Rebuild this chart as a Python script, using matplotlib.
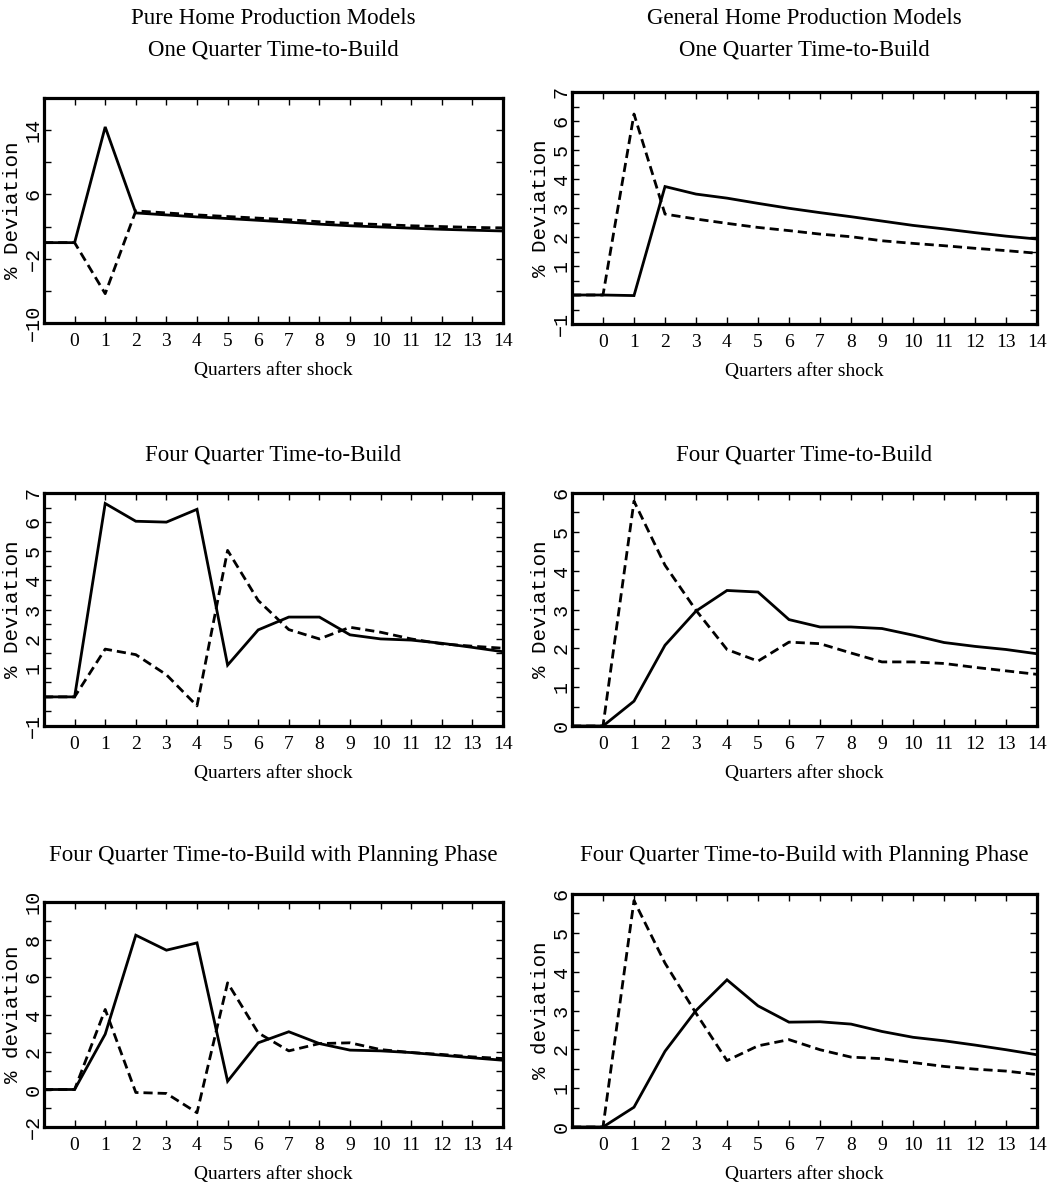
import matplotlib
matplotlib.use("Agg")
import matplotlib.pyplot as plt
import numpy as np

# ---------------- data ----------------
quarters = list(range(-1, 15))

p1_solid  = [0, 0, 14.4, 3.7, 3.45, 3.2, 3.0, 2.78, 2.55, 2.3, 2.1, 1.95, 1.8, 1.66, 1.55, 1.45]
p1_dashed = [0, 0, -6.35, 3.95, 3.7, 3.45, 3.25, 3.05, 2.85, 2.6, 2.4, 2.25, 2.1, 2.0, 1.9, 1.83]

p2_solid  = [0, 0, -0.02, 3.74, 3.48, 3.34, 3.16, 2.99, 2.84, 2.70, 2.55, 2.40, 2.28, 2.15, 2.03, 1.93]
p2_dashed = [0, 0, 6.24, 2.79, 2.62, 2.47, 2.33, 2.22, 2.10, 2.01, 1.87, 1.78, 1.70, 1.61, 1.53, 1.44]

p3_solid  = [0, 0, 6.64, 6.03, 6.0, 6.44, 1.09, 2.30, 2.74, 2.74, 2.13, 1.99, 1.95, 1.84, 1.70, 1.55]
p3_dashed = [0, 0, 1.64, 1.45, 0.76, -0.31, 5.03, 3.31, 2.31, 1.99, 2.39, 2.22, 1.99, 1.82, 1.74, 1.67]

p4_solid  = [0, 0, 0.64, 2.08, 2.96, 3.49, 3.45, 2.74, 2.55, 2.55, 2.51, 2.34, 2.15, 2.05, 1.97, 1.86]
p4_dashed = [0, 0, 5.79, 4.14, 2.98, 1.97, 1.67, 2.16, 2.12, 1.88, 1.65, 1.65, 1.61, 1.51, 1.42, 1.33]

p5_solid  = [0, 0, 2.95, 8.23, 7.43, 7.82, 0.44, 2.49, 3.08, 2.45, 2.10, 2.06, 1.97, 1.83, 1.69, 1.56]
p5_dashed = [0, 0, 4.27, -0.16, -0.21, -1.24, 5.69, 3.02, 2.06, 2.45, 2.49, 2.13, 1.97, 1.87, 1.74, 1.65]

p6_solid  = [0, 0, 0.51, 1.95, 3.0, 3.79, 3.12, 2.70, 2.71, 2.65, 2.46, 2.31, 2.22, 2.11, 1.99, 1.86]
p6_dashed = [0, 0, 5.83, 4.22, 2.93, 1.71, 2.09, 2.25, 1.99, 1.80, 1.76, 1.66, 1.56, 1.49, 1.44, 1.35]

titles = [
    ["Pure Home Production Models", "One Quarter Time-to-Build"],
    ["General Home Production Models", "One Quarter Time-to-Build"],
    ["Four Quarter Time-to-Build"],
    ["Four Quarter Time-to-Build"],
    ["Four Quarter Time-to-Build with Planning Phase"],
    ["Four Quarter Time-to-Build with Planning Phase"],
]
ylabels = ["% Deviation", "% Deviation", "% Deviation", "% Deviation", "% deviation", "% deviation"]
xlabel = "Quarters after shock"

# y tick positions and labelled values per panel
yticks_all = [
    list(range(-10, 19, 4)),
    list(np.arange(-1, 7.01, 0.5)),
    list(np.arange(-1, 7.01, 0.5)),
    list(np.arange(0, 6.01, 0.5)),
    list(range(-2, 11, 1)),
    list(np.arange(0, 6.01, 0.5)),
]
ytick_labelled = [
    [14, 6, -2, -10],
    [7, 6, 5, 4, 3, 2, 1, -1],
    [7, 6, 5, 4, 3, 2, 1, -1],
    [6, 5, 4, 3, 2, 1, 0],
    [10, 8, 6, 4, 2, 0, -2],
    [6, 5, 4, 3, 2, 1, 0],
]
ylims = [(-10, 18), (-1, 7), (-1, 7), (0, 6), (-2, 10), (0, 6)]

solids = [p1_solid, p2_solid, p3_solid, p4_solid, p5_solid, p6_solid]
dashes = [p1_dashed, p2_dashed, p3_dashed, p4_dashed, p5_dashed, p6_dashed]

# ---------------- layout (pixels) ----------------
W, H = 1055, 1186
boxes = [  # left, right, top, bottom
    (44, 503, 98, 323),
    (572, 1037, 92, 324),
    (44, 503, 493, 726),
    (572, 1037, 493, 726),
    (44, 503, 902, 1127),
    (572, 1037, 894, 1127),
]
title_y = [[18, 50], [18, 50], [455], [455], [856], [856]]

serif = "Liberation Serif"
mono = "Liberation Mono"

fig = plt.figure(figsize=(W / 100, H / 100), dpi=100)

for i in range(6):
    l, r, t, b = boxes[i]
    ax = fig.add_axes([l / W, 1 - b / H, (r - l) / W, (b - t) / H])
    ax.plot(quarters, solids[i], color="black", lw=2.0, solid_joinstyle="miter")
    ax.plot(quarters, dashes[i], color="black", lw=2.0, linestyle=(0, (3.3, 1.8)))
    ax.set_xlim(-1, 14)
    ax.set_ylim(*ylims[i])
    ax.set_xticks(quarters)
    ax.set_xticklabels(["" if q == -1 else str(q) for q in quarters],
                       fontfamily=serif, fontsize=14)
    yt = yticks_all[i]
    ax.set_yticks(yt)
    labs = []
    for v in yt:
        match = [u for u in ytick_labelled[i] if abs(u - v) < 1e-9]
        if match:
            u = match[0]
            labs.append(("\u2212" + str(abs(int(u)))) if u < 0 else str(int(u)))
        else:
            labs.append("")
    ax.set_yticklabels(labs, fontfamily=mono, fontsize=14.5, rotation=90, va="center")
    ax.tick_params(axis="both", direction="in", length=5, width=1,
                   top=True, right=True)
    ax.tick_params(axis="x", pad=7)
    ax.tick_params(axis="y", pad=1)
    for s in ax.spines.values():
        s.set_linewidth(2.3)
    ax.set_xlabel(xlabel, fontfamily=serif, fontsize=14, labelpad=9)
    ax.set_ylabel(ylabels[i], fontfamily=mono, fontsize=15)
    ax.yaxis.set_label_coords(-22.0 / (r - l), 0.5)
    cx = (l + r) / 2 / W
    for line, ty in zip(titles[i], title_y[i]):
        fig.text(cx, 1 - ty / H, line, ha="center", va="center",
                 fontfamily=serif, fontsize=16.5)

fig.savefig("out.png", dpi=100)
